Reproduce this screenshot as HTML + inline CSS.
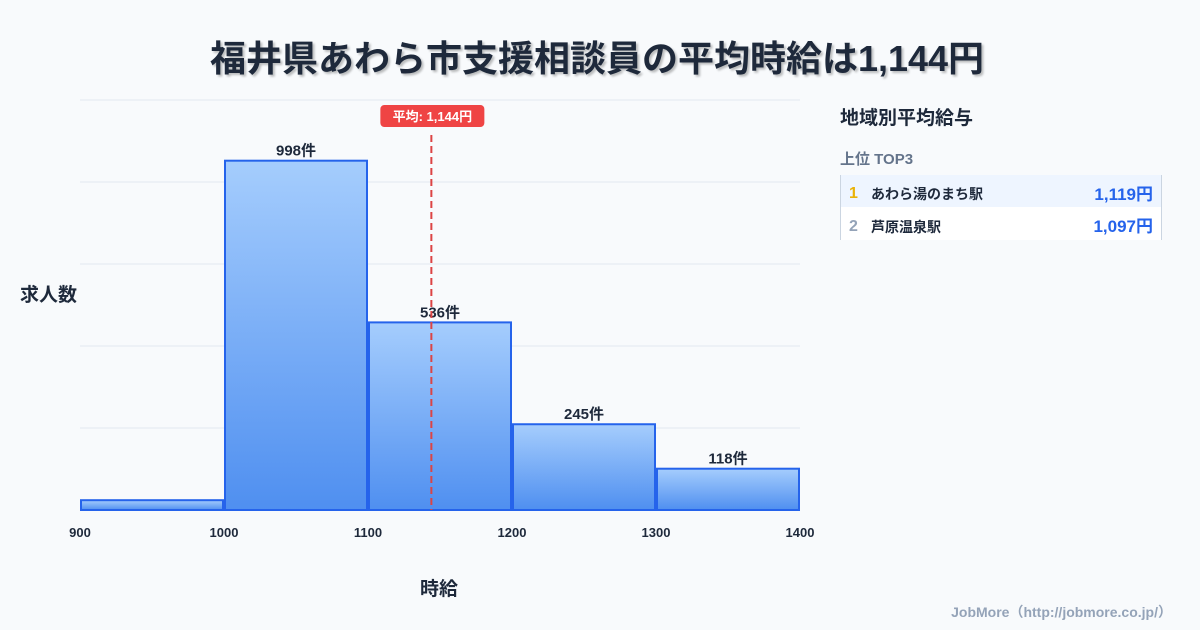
<!DOCTYPE html>
<html><head><meta charset="utf-8"><style>
body{margin:0;width:1200px;height:630px;background:#f8fafc;font-family:"Liberation Sans","Noto Sans CJK JP",sans-serif;position:relative;overflow:hidden;color:#1e293b}
.t{position:absolute;white-space:nowrap}
</style></head><body>
<div class="t" style="left:-3px;width:1200px;text-align:center;top:30px;font-size:36px;font-weight:bold;color:#1e293b;text-shadow:2px 2px 2px rgba(0,0,0,0.25)">福井県あわら市支援相談員の平均時給は1,144円</div>
<div class="t" style="left:20px;top:280px;font-size:19px;font-weight:bold">求人数</div>
<div class="t" style="left:420px;top:574px;font-size:19px;font-weight:bold">時給</div>
<svg id="chart" width="1200" height="630" style="position:absolute;left:0;top:0">
<defs><linearGradient id="g" x1="0" y1="0" x2="0" y2="1"><stop offset="0" stop-color="#a5cdfd"/><stop offset="1" stop-color="#4f8ff0"/></linearGradient></defs>
</svg>
<div class="t" style="left:840px;top:103px;font-size:19px;font-weight:bold">地域別平均給与</div>
<div class="t" style="left:840px;top:148px;font-size:15px;font-weight:bold;color:#64748b">上位 TOP3</div>
<div style="position:absolute;left:840px;top:175px;width:320px;height:65px;border-left:1px solid #cbd5e1;border-right:1px solid #cbd5e1">
<div style="height:32px;background:#eef5ff;position:relative;font-size:14px;font-weight:bold">
<span class="t" style="left:8px;top:10px;color:#eab308;font-size:16px">1</span>
<span class="t" style="left:30px;top:9px">あわら湯のまち駅</span>
<span class="t" style="right:8px;top:11px;color:#2563eb;font-size:17px;line-height:17px">1,119円</span></div>
<div style="height:33px;background:#fff;position:relative;font-size:14px;font-weight:bold">
<span class="t" style="left:8px;top:11px;color:#94a3b8;font-size:16px">2</span>
<span class="t" style="left:30px;top:10px">芦原温泉駅</span>
<span class="t" style="right:8px;top:11px;color:#2563eb;font-size:17px;line-height:17px">1,097円</span></div>
</div>
<div class="t" style="right:28px;top:602px;font-size:14px;font-weight:bold;color:#94a3b8">JobMore（http://jobmore.co.jp/）</div>
<script>
const binStarts=[900,1000,1100,1200,1300];
const binWidth=100;
const counts=[28,998,536,245,118];
const xTicks=[900,1000,1100,1200,1300,1400];
const meanValue=1144;
const meanLabel="平均: 1,144円";
const NS="http://www.w3.org/2000/svg";
const svg=document.getElementById('chart');
const X0=80,X1=800,Y0=510,YT=100,xmin=900,xmax=1400,ymax=1171.4;
const xs=v=>X0+(v-xmin)/(xmax-xmin)*(X1-X0);
const ys=v=>Y0-v/ymax*(Y0-YT);
function mk(t,a){const e=document.createElementNS(NS,t);for(const k in a)e.setAttribute(k,a[k]);svg.appendChild(e);return e;}
for(let i=0;i<=5;i++){const y=YT+i*(Y0-YT)/5;const l=mk('line',{x1:X0,x2:X1,y1:y,y2:y,stroke:'#e2e8f0','stroke-width':1});

}
counts.forEach((c,i)=>{const x=xs(binStarts[i])+1,w=xs(binStarts[i]+binWidth)-xs(binStarts[i])-2,y=ys(c);
const r=mk('rect',{x:x,y:y,width:w,height:Y0-y,fill:'url(#g)',stroke:'#2563eb','stroke-width':2});


if(c>50){const t=mk('text',{x:x+w/2,y:y-5,'text-anchor':'middle','font-size':15,'font-weight':'bold',fill:'#1e293b'});t.textContent=c+'件';

}});
xTicks.forEach(v=>{const t=mk('text',{x:xs(v),y:537,'text-anchor':'middle','font-size':13,'font-weight':'bold',fill:'#1e293b'});t.textContent=v;

});
const mx=xs(meanValue);
const ml=mk('line',{x1:mx,x2:mx,y1:135,y2:Y0,stroke:'#dc4444','stroke-width':2,'stroke-dasharray':'7,4'});


const mb=mk('rect',{x:mx-51,y:105,width:104,height:22,rx:4,fill:'#ef4444'});


const mt=mk('text',{x:mx+1,y:121,'text-anchor':'middle','font-size':13,'font-weight':'bold',fill:'#fff'});mt.textContent=meanLabel;


</script>
</body></html>
